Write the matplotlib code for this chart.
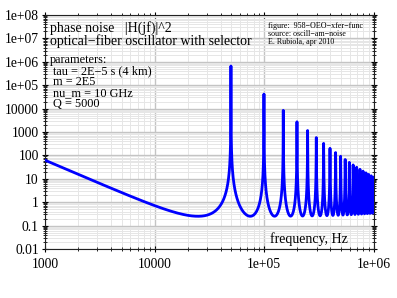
import numpy as np
import matplotlib
matplotlib.use("Agg")
import matplotlib.pyplot as plt
from matplotlib.ticker import FixedLocator, LogLocator, NullFormatter

# parameters printed on the chart
tau = 2e-5        # delay, s (4 km fiber)
m = 200000        # number of frequency points
nu_m = 10e9       # microwave carrier, Hz
Q = 5000          # selector quality factor
f_start = 1e3
f_stop = 1e6

x_ticks = [1e3, 1e4, 1e5, 1e6]
x_labels = ["1000", "10000", "1e+05", "1e+06"]
y_ticks = [1e-2, 1e-1, 1, 10, 100, 1e3, 1e4, 1e5, 1e6, 1e7, 1e8]
y_labels = ["0.01", "0.1", "1", "10", "100", "1000", "10000",
            "1e+05", "1e+06", "1e+07", "1e+08"]

# |H(jf)|^2 of the delay-line oscillator with lowpass-equivalent selector
f = np.logspace(np.log10(f_start), np.log10(f_stop), m)
f_L = nu_m / (2 * Q)
B = np.exp(-2j * np.pi * f * tau) / (1 + 1j * f / f_L)
H2 = 1.0 / np.abs(1 - B) ** 2

serif = ["Liberation Serif", "DejaVu Serif"]
plt.rcParams["font.family"] = serif

fig = plt.figure(figsize=(3.97, 2.98), dpi=100)
ax = fig.add_axes([45 / 397, 1 - 249 / 298, 329 / 397, 234 / 298])

ax.plot(f, H2, color="#0000ff", lw=2.0, zorder=3)

ax.set_xscale("log")
ax.set_yscale("log")
ax.set_xlim(f_start, f_stop)
ax.set_ylim(1e-2, 1e8)

ax.xaxis.set_major_locator(FixedLocator(x_ticks))
ax.set_xticklabels(x_labels)
ax.xaxis.set_minor_locator(LogLocator(base=10, subs=np.arange(2, 10), numticks=20))
ax.xaxis.set_minor_formatter(NullFormatter())
ax.yaxis.set_major_locator(FixedLocator(y_ticks))
ax.set_yticklabels(y_labels)
ax.yaxis.set_minor_locator(LogLocator(base=10, subs=np.arange(2, 10), numticks=20))
ax.yaxis.set_minor_formatter(NullFormatter())

ax.grid(True, which="major", color="#c4c4c4", lw=1.0, zorder=0)
ax.grid(True, which="minor", color="#e6e6e6", lw=0.7, zorder=0)

ax.tick_params(which="major", direction="inout", length=5, width=0.8,
               top=True, right=True, labelsize=9.8, pad=2, colors="black")
ax.tick_params(which="minor", direction="inout", length=3, width=0.6,
               top=True, right=True)
ax.tick_params(axis="x", which="major", pad=4)
for s in ax.spines.values():
    s.set_color("#222222")
    s.set_linewidth(0.8)

tr = ax.transAxes
def px(x, y):
    return ((x - 45) / 329, (249 - y) / 234)

ax.text(*px(50, 32), "phase noise   |H(jf)|^2", transform=tr, fontsize=10)
ax.text(*px(50, 45.5), "optical\u2212fiber oscillator with selector",
        transform=tr, fontsize=10)
ax.text(*px(50, 63), "parameters:", transform=tr, fontsize=8.8)
params = ["tau = 2E\u22125 s (4 km)", "m = 2E5", "nu_m = 10 GHz", "Q = 5000"]
for i, p in enumerate(params):
    ax.text(*px(53, 74 + i * 11), p, transform=tr, fontsize=8.8)

credits = ["figure:  958\u2212OEO\u2212xfer\u2212func", "source: oscill\u2212am\u2212noise",
           "E. Rubiola, apr 2010"]
for i, c in enumerate(credits):
    ax.text(*px(268, 27.5 + i * 8), c, transform=tr, fontsize=5.8)

ax.text(*px(270, 243), "frequency, Hz", transform=tr, fontsize=10)

fig.savefig("out.png", dpi=100, facecolor="white")
